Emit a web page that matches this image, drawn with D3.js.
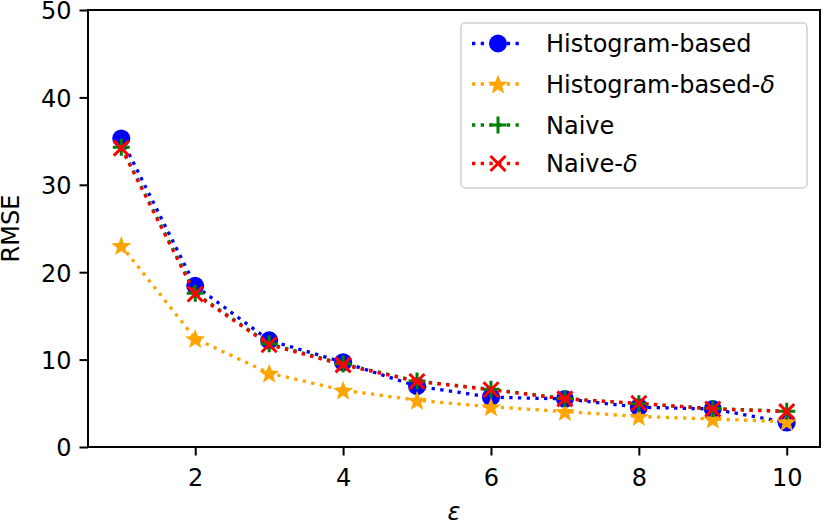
<!DOCTYPE html>
<html><head><meta charset="utf-8">
<script src="https://cdn.jsdelivr.net/npm/d3@7"></script>
<style>body{margin:0;background:#fff}svg{display:block}text{font-family:"DejaVu Sans",sans-serif;fill:#000}</style>
</head><body><svg id="c" width="830" height="527"></svg>
<script>
const epsilons = [1,2,3,4,5,6,7,8,9,10];
const histBased = [35.3,18.45,12.2,9.7,6.95,5.7,5.5,4.55,4.35,2.8];
const histBasedDelta = [23.05,12.4,8.45,6.5,5.35,4.6,4.05,3.5,3.2,2.9];
const naive = [34.3,17.6,11.8,9.5,7.55,6.6,5.55,4.95,4.4,4.1];
const naiveDelta = [34.2,17.5,11.7,9.4,7.5,6.55,5.5,5.0,4.35,4.05];
const seriesNames = ["Histogram-based","Histogram-based-δ","Naive","Naive-δ"];
const yTicks = [0,10,20,30,40,50];
const xTicks = [2,4,6,8,10];

const svg = d3.select("#c");
const L=88,R=820,T=10,B=447;
const x = d3.scaleLinear().domain([0.55,10.45]).range([L,R]);
const y = d3.scaleLinear().domain([0,50]).range([B,T]);

const series = [
 {name:seriesNames[0],vals:histBased,color:"#0000ff",m:"circle"},
 {name:seriesNames[1],vals:histBasedDelta,color:"#ffa500",m:"star"},
 {name:seriesNames[2],vals:naive,color:"#008000",m:"plus"},
 {name:seriesNames[3],vals:naiveDelta,color:"#ff0000",m:"x"}
];

function starPath(r){
  const ri=r*0.42; let p=[];
  for(let i=0;i<10;i++){const a=-Math.PI/2+i*Math.PI/5;const rr=i%2?ri:r;p.push([rr*Math.cos(a),rr*Math.sin(a)]);}
  return "M"+p.map(q=>q.join(",")).join("L")+"Z";
}
function drawMarker(g,m,color,cx,cy){
  if(m==="circle") g.append("circle").attr("cx",cx).attr("cy",cy).attr("r",9).attr("fill",color);
  else if(m==="star") g.append("path").attr("d",starPath(10.5)).attr("transform",`translate(${cx},${cy+1})`).attr("fill",color);
  else if(m==="plus") g.append("path").attr("d","M-8.5,0H8.5M0,-8.5V8.5").attr("transform",`translate(${cx},${cy})`).attr("stroke",color).attr("stroke-width",3).attr("fill","none");
  else g.append("path").attr("d","M-7.5,-7.5L7.5,7.5M-7.5,7.5L7.5,-7.5").attr("transform",`translate(${cx},${cy})`).attr("stroke",color).attr("stroke-width",3).attr("fill","none");
}

const line = d3.line().x((d,i)=>x(epsilons[i])).y(d=>y(d));
const plot = svg.append("g");
series.forEach(s=>{
  plot.append("path").attr("d",line(s.vals)).attr("fill","none").attr("stroke",s.color)
    .attr("stroke-width",3.3).attr("stroke-dasharray","3.3,5.4");
  s.vals.forEach((v,i)=>drawMarker(plot,s.m,s.color,x(epsilons[i]),y(v)));
});

// axes
const xa = svg.append("g").attr("transform",`translate(0,${B})`)
  .call(d3.axisBottom(x).tickValues(xTicks).tickSize(8.5).tickPadding(8).tickFormat(d3.format("d")));
const ya = svg.append("g").attr("transform",`translate(${L},0)`)
  .call(d3.axisLeft(y).tickValues(yTicks).tickSize(8.5).tickPadding(8).tickFormat(d3.format("d")));
[xa,ya].forEach(a=>{a.select(".domain").remove();a.selectAll("line").attr("stroke","#000").attr("stroke-width",2);
  a.selectAll("text").attr("font-size",24).attr("font-family","DejaVu Sans").attr("fill","#000");});
xa.selectAll("text").attr("dy","0.95em");
ya.selectAll("text").attr("dy","0.37em");
svg.append("rect").attr("x",L).attr("y",T).attr("width",R-L).attr("height",B-T)
  .attr("fill","none").attr("stroke","#000").attr("stroke-width",2);

svg.append("text").attr("transform",`translate(19,${(T+B)/2}) rotate(-90)`).attr("text-anchor","middle")
  .attr("font-size",24).text("RMSE");
svg.append("text").attr("x",(L+R)/2).attr("y",520).attr("text-anchor","middle")
  .attr("font-size",24).attr("font-style","italic").text("ε");

// legend
const lg = svg.append("g");
lg.append("rect").attr("x",461).attr("y",23).attr("width",346).attr("height",165).attr("rx",4)
  .attr("fill","#fff").attr("fill-opacity",0.8).attr("stroke","#d0d0d0").attr("stroke-width",1.5);
const rowsY=[43.5,84,125,163.5];
series.forEach((s,i)=>{
  const yy=rowsY[i];
  lg.append("line").attr("x1",472).attr("x2",524).attr("y1",yy).attr("y2",yy).attr("stroke",s.color)
    .attr("stroke-width",3.3).attr("stroke-dasharray","3.3,5.4");
  drawMarker(lg,s.m,s.color,498,yy);
  const t=lg.append("text").attr("x",546).attr("y",yy).attr("dy","0.36em").attr("font-size",24);
  if(s.name.endsWith("-δ")){t.append("tspan").text(s.name.slice(0,-1));t.append("tspan").attr("font-style","italic").text("δ");}
  else t.text(s.name);
});
</script></body></html>
